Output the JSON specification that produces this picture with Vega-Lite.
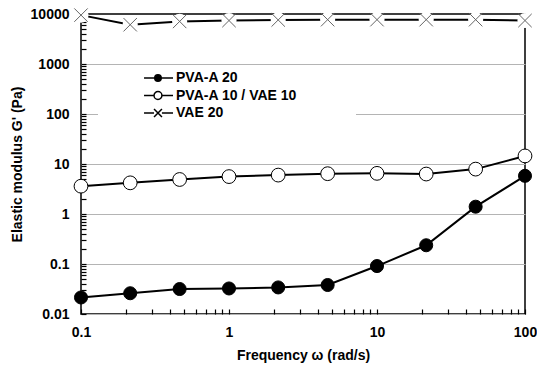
{
  "$schema": "https://vega.github.io/schema/vega-lite/v6.json",
  "width": 444,
  "height": 300,
  "autosize": {"type": "none"},
  "padding": {"left": 81, "top": 14, "right": 12, "bottom": 51},
  "background": "white",
  "config": {
    "view": {"stroke": "black", "strokeWidth": 1.5},
    "font": "Liberation Sans"
  },
  "data": {
    "values": [
      {"series": "PVA-A 20", "freq": 0.1, "G": 0.0214},
      {"series": "PVA-A 20", "freq": 0.215, "G": 0.026},
      {"series": "PVA-A 20", "freq": 0.464, "G": 0.0316},
      {"series": "PVA-A 20", "freq": 1, "G": 0.0324},
      {"series": "PVA-A 20", "freq": 2.15, "G": 0.034},
      {"series": "PVA-A 20", "freq": 4.64, "G": 0.038},
      {"series": "PVA-A 20", "freq": 10, "G": 0.091},
      {"series": "PVA-A 20", "freq": 21.5, "G": 0.237},
      {"series": "PVA-A 20", "freq": 46.4, "G": 1.4},
      {"series": "PVA-A 20", "freq": 100, "G": 5.8},
      {"series": "PVA-A 10 / VAE 10", "freq": 0.1, "G": 3.6},
      {"series": "PVA-A 10 / VAE 10", "freq": 0.215, "G": 4.2},
      {"series": "PVA-A 10 / VAE 10", "freq": 0.464, "G": 4.9},
      {"series": "PVA-A 10 / VAE 10", "freq": 1, "G": 5.6},
      {"series": "PVA-A 10 / VAE 10", "freq": 2.15, "G": 6.0},
      {"series": "PVA-A 10 / VAE 10", "freq": 4.64, "G": 6.4},
      {"series": "PVA-A 10 / VAE 10", "freq": 10, "G": 6.5},
      {"series": "PVA-A 10 / VAE 10", "freq": 21.5, "G": 6.3},
      {"series": "PVA-A 10 / VAE 10", "freq": 46.4, "G": 7.9},
      {"series": "PVA-A 10 / VAE 10", "freq": 100, "G": 14.5},
      {"series": "VAE 20", "freq": 0.1, "G": 9500},
      {"series": "VAE 20", "freq": 0.215, "G": 6100},
      {"series": "VAE 20", "freq": 0.464, "G": 7100},
      {"series": "VAE 20", "freq": 1, "G": 7400},
      {"series": "VAE 20", "freq": 2.15, "G": 7600},
      {"series": "VAE 20", "freq": 4.64, "G": 7700},
      {"series": "VAE 20", "freq": 10, "G": 7700},
      {"series": "VAE 20", "freq": 21.5, "G": 7700},
      {"series": "VAE 20", "freq": 46.4, "G": 7700},
      {"series": "VAE 20", "freq": 100, "G": 7400}
    ]
  },
  "encoding": {
    "x": {
      "field": "freq",
      "type": "quantitative",
      "scale": {"type": "log", "domain": [0.1, 100], "nice": false},
      "axis": {
        "values": [0.1, 0.2, 0.3, 0.4, 0.5, 0.6, 0.7, 0.8, 0.9, 1, 2, 3, 4, 5, 6, 7, 8, 9, 10, 20, 30, 40, 50, 60, 70, 80, 90, 100],
        "format": "~g",
        "labelExpr": "abs(log(datum.value)/LN10 - round(log(datum.value)/LN10)) < 0.001 ? datum.label : ''",
        "labelOverlap": false,
        "labelFlush": false,
        "grid": false,
        "domain": false,
        "ticks": true,
        "offset": -5,
        "tickColor": "black",
        "tickWidth": 1.2,
        "tickSize": 5,
        "labelFont": "Liberation Sans",
        "labelFontWeight": "bold",
        "labelFontSize": 14,
        "labelColor": "black",
        "labelPadding": 11,
        "title": "Frequency ω (rad/s)",
        "titleFont": "Liberation Sans",
        "titleFontWeight": "bold",
        "titleFontSize": 14,
        "titleColor": "black",
        "titlePadding": 9
      }
    },
    "y": {
      "field": "G",
      "type": "quantitative",
      "scale": {"type": "log", "domain": [0.01, 10000], "nice": false},
      "axis": {
        "values": [0.01, 0.02, 0.03, 0.04, 0.05, 0.06, 0.07, 0.08, 0.09, 0.1, 0.2, 0.3, 0.4, 0.5, 0.6, 0.7, 0.8, 0.9, 1, 2, 3, 4, 5, 6, 7, 8, 9, 10, 20, 30, 40, 50, 60, 70, 80, 90, 100, 200, 300, 400, 500, 600, 700, 800, 900, 1000, 2000, 3000, 4000, 5000, 6000, 7000, 8000, 9000, 10000],
        "format": "~g",
        "labelExpr": "abs(log(datum.value)/LN10 - round(log(datum.value)/LN10)) < 0.001 ? datum.label : ''",
        "labelOverlap": false,
        "labelFlush": false,
        "grid": true,
        "gridColor": "#b4b4b4",
        "gridWidth": 1,
        "gridOpacity": {"condition": {"test": "abs(log(datum.value)/LN10 - round(log(datum.value)/LN10)) < 0.001 && datum.value < 5000", "value": 1}, "value": 0},
        "domain": false,
        "ticks": true,
        "offset": -5,
        "tickColor": "black",
        "tickWidth": 1.2,
        "tickSize": 5,
        "labelFont": "Liberation Sans",
        "labelFontWeight": "bold",
        "labelFontSize": 14,
        "labelColor": "black",
        "labelPadding": 12,
        "title": "Elastic modulus G' (Pa)",
        "titleFont": "Liberation Sans",
        "titleFontWeight": "bold",
        "titleFontSize": 14,
        "titleColor": "black",
        "titlePadding": 6
      }
    }
  },
  "layer": [
    {
      "mark": {"type": "line", "color": "black", "strokeWidth": 2},
      "encoding": {"detail": {"field": "series"}}
    },
    {
      "transform": [{"filter": "datum.series === 'PVA-A 20'"}],
      "mark": {"type": "point", "shape": "circle", "size": 170, "filled": true, "fill": "black", "stroke": "black", "strokeWidth": 1, "opacity": 1}
    },
    {
      "transform": [{"filter": "datum.series === 'PVA-A 10 / VAE 10'"}],
      "mark": {"type": "point", "shape": "circle", "size": 190, "filled": true, "fill": "white", "stroke": "black", "strokeWidth": 1, "opacity": 1}
    },
    {
      "transform": [{"filter": "datum.series === 'VAE 20'"}],
      "mark": {"type": "point", "shape": "circle", "size": 230, "filled": true, "fill": "white", "strokeWidth": 0, "opacity": 1}
    },
    {
      "transform": [{"filter": "datum.series === 'VAE 20'"}],
      "mark": {"type": "point", "shape": "M-1,-1L1,1M-1,1L1,-1", "size": 180, "filled": false, "stroke": "#666666", "strokeWidth": 1, "opacity": 1}
    },
    {
      "mark": {"type": "point", "opacity": 0, "stroke": "black", "strokeWidth": 1.5},
      "encoding": {
        "shape": {
          "field": "series",
          "type": "nominal",
          "scale": {
            "domain": ["PVA-A 20", "PVA-A 10 / VAE 10", "VAE 20"],
            "range": [
              "M3.67,0H4.86M5.58,0H6.89M5.58,0A0.36,0.36 0 1,1 4.86,0A0.36,0.36 0 1,1 5.58,0M26.5,0",
              "M3.67,0H4.78M5.66,0H6.89M5.66,0A0.44,0.44 0 1,1 4.78,0A0.44,0.44 0 1,1 5.66,0M26.5,0",
              "M3.67,0H4.78M5.66,0H6.89M4.78,-0.44L5.66,0.44M4.78,0.44L5.66,-0.44M26.5,0"
            ]
          },
          "legend": {
            "title": null,
            "orient": "none",
            "legendX": 17,
            "legendY": 51,
            "padding": 3,
            "fillColor": "white",
            "symbolSize": 324,
            "symbolOpacity": 1,
            "symbolStrokeColor": "black",
            "symbolStrokeWidth": 1.5,
            "labelFont": "Liberation Sans",
            "labelFontWeight": "bold",
            "labelFontSize": 14,
            "labelColor": "black",
            "labelOffset": 55,
            "rowPadding": 0.5,
            "labelLimit": 400,
            "encode": {"symbols": {"update": {"stroke": {"value": "black"}, "strokeWidth": {"value": 1.5}, "opacity": {"value": 1}, "strokeOpacity": {"value": 1}}}}
          }
        },
        "fill": {
          "field": "series",
          "type": "nominal",
          "scale": {"domain": ["PVA-A 20", "PVA-A 10 / VAE 10", "VAE 20"], "range": ["black", "white", "white"]},
          "legend": {
            "title": null,
            "orient": "none",
            "legendX": 17,
            "legendY": 51,
            "padding": 3,
            "fillColor": "white",
            "symbolSize": 324,
            "symbolOpacity": 1,
            "symbolStrokeColor": "black",
            "symbolStrokeWidth": 1.5,
            "labelFont": "Liberation Sans",
            "labelFontWeight": "bold",
            "labelFontSize": 14,
            "labelColor": "black",
            "labelOffset": 55,
            "rowPadding": 0.5,
            "labelLimit": 400,
            "encode": {"symbols": {"update": {"stroke": {"value": "black"}, "strokeWidth": {"value": 1.5}, "opacity": {"value": 1}, "strokeOpacity": {"value": 1}}}}
          }
        }
      }
    }
  ]
}
